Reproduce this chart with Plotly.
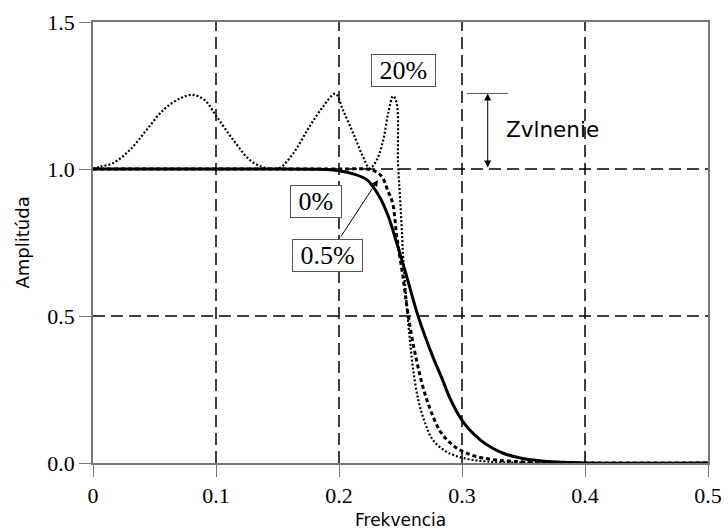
import plotly.graph_objects as go

# ---- data ----
x_0 = [0.0, 0.10, 0.15, 0.18, 0.19, 0.20, 0.21, 0.2228, 0.233, 0.240, 0.247, 0.255,
       0.2645, 0.2764, 0.284, 0.290, 0.298, 0.305, 0.315, 0.325, 0.333, 0.343,
       0.353, 0.365, 0.374, 0.385, 0.40, 0.50]
y_0 = [1.0, 1.0, 1.0, 0.999, 0.998, 0.994, 0.985, 0.963, 0.905, 0.84, 0.748, 0.635,
       0.497, 0.36, 0.285, 0.222, 0.158, 0.118, 0.078, 0.05, 0.034, 0.021,
       0.013, 0.007, 0.004, 0.002, 0.0, 0.0]

x_05 = [0.0, 0.10, 0.20, 0.222, 0.228, 0.2347, 0.240, 0.2436, 0.247, 0.252, 0.256,
        0.263, 0.2715, 0.282, 0.290, 0.298, 0.307, 0.317, 0.328, 0.34, 0.355,
        0.37, 0.385, 0.40, 0.50]
y_05 = [1.0, 1.0, 1.0, 1.0, 0.995, 0.975, 0.923, 0.884, 0.77, 0.633, 0.51,
        0.35, 0.214, 0.11, 0.07, 0.045, 0.028, 0.017, 0.010, 0.006, 0.003,
        0.002, 0.001, 0.0, 0.0]

x_20 = [0.0, 0.0057, 0.0163, 0.030, 0.0436, 0.057, 0.0707, 0.081, 0.0906, 0.1006, 0.114,
        0.1276, 0.137, 0.1435, 0.148, 0.1525, 0.163, 0.176, 0.187, 0.197, 0.2033, 0.2115,
        0.2195, 0.225, 0.2306, 0.236, 0.240, 0.244, 0.2469, 0.248, 0.2496, 0.251,
        0.2523, 0.2556, 0.2577, 0.260, 0.2645, 0.270, 0.2764, 0.2875, 0.301, 0.32,
        0.35, 0.40, 0.50]
y_20 = [1.0, 1.008, 1.02, 1.065, 1.133, 1.20, 1.24, 1.252, 1.235, 1.178, 1.099,
        1.03, 1.008, 1.001, 1.0, 1.005, 1.054, 1.144, 1.212, 1.256, 1.20, 1.122,
        1.042, 1.002, 1.03, 1.099, 1.19, 1.248, 1.224, 1.02, 0.906, 0.80,
        0.69, 0.51, 0.418, 0.327, 0.214, 0.136, 0.078, 0.038, 0.017, 0.005,
        0.001, 0.0, 0.0]

x_ticks = [0, 0.1, 0.2, 0.3, 0.4, 0.5]
x_labels = ["0", "0.1", "0.2", "0.3", "0.4", "0.5"]
y_ticks = [0, 0.5, 1.0, 1.5]
y_labels = ["0.0", "0.5", "1.0", "1.5"]

fig = go.Figure()

# dashed gridlines drawn as line traces
for xv in x_ticks[1:-1]:
    fig.add_trace(go.Scatter(x=[xv, xv], y=[0, 1.5], mode="lines",
                             line=dict(color="black", width=1.5, dash="12px,6px"),
                             hoverinfo="skip", showlegend=False))
for yv in y_ticks[1:-1]:
    fig.add_trace(go.Scatter(x=[0, 0.5], y=[yv, yv], mode="lines",
                             line=dict(color="black", width=1.5, dash="12px,6px"),
                             hoverinfo="skip", showlegend=False))

fig.add_trace(go.Scatter(x=x_20, y=y_20, mode="lines", line_shape="spline",
                         line=dict(color="black", width=2.2, dash="2px,2px"),
                         name="20%", showlegend=False))
fig.add_trace(go.Scatter(x=x_05, y=y_05, mode="lines", line_shape="spline",
                         line=dict(color="black", width=3, dash="4px,3px"),
                         name="0.5%", showlegend=False))
fig.add_trace(go.Scatter(x=x_0, y=y_0, mode="lines", line_shape="spline",
                         line=dict(color="black", width=3),
                         name="0%", showlegend=False))

serif = "Liberation Serif"
sans = "DejaVu Sans"

fig.update_xaxes(range=[0, 0.5], tickvals=x_ticks, ticktext=x_labels,
                 showgrid=False, zeroline=False, showline=True, linecolor="#777",
                 linewidth=1.5, mirror=True, ticks="outside", ticklen=12,
                 tickcolor="#777", tickwidth=1.2, automargin=False,
                 tickfont=dict(family=serif, size=22, color="black"))
fig.update_yaxes(range=[0, 1.5], tickvals=y_ticks, ticktext=y_labels,
                 showgrid=False, zeroline=False, showline=True, linecolor="#777",
                 linewidth=1.5, mirror=True, ticks="outside", ticklen=12,
                 tickcolor="#777", tickwidth=1.2, automargin=False,
                 tickfont=dict(family=serif, size=22, color="black"))

# axis titles
fig.add_annotation(x=0.5, y=0, xref="paper", yref="paper", yanchor="middle",
                   yshift=-57, text="Frekvencia", showarrow=False,
                   font=dict(family=sans, size=17, color="black"))
fig.add_annotation(x=0, y=0.5, xref="paper", yref="paper", xanchor="center",
                   xshift=-71, textangle=-90, text="Amplitúda", showarrow=False,
                   font=dict(family=sans, size=18, color="black"))

box = dict(bordercolor="#555", borderwidth=1, bgcolor="white", borderpad=1,
           font=dict(family=serif, size=26, color="black"), showarrow=False,
           xref="x", yref="y")
nb = "\u00a0"
fig.add_annotation(x=0.2524, y=1.336, text=nb + "20%" + nb, **box)
fig.add_annotation(x=0.1809, y=0.889, text=nb + "0%" + nb, **box)

# arrow from 0.5% box to the curves
fig.add_annotation(x=0.2317, y=0.963, ax=0.2008, ay=0.765, axref="x", ayref="y",
                   xref="x", yref="y", text="", showarrow=True, arrowhead=2,
                   arrowsize=1.3, arrowwidth=1, arrowcolor="black")
fig.add_annotation(x=0.1907, y=0.7075, text=nb + "0.5%" + nb, **box)

# ripple marker
fig.add_shape(type="line", x0=0.304, x1=0.3374, y0=1.257, y1=1.257,
              xref="x", yref="y", line=dict(color="#555", width=1))
fig.add_annotation(x=0.3209, y=1.257, ax=0.3209, ay=1.0, axref="x", ayref="y",
                   xref="x", yref="y", text="", showarrow=True, arrowhead=2,
                   arrowside="end+start", arrowsize=1.4, arrowwidth=1,
                   arrowcolor="black")
fig.add_annotation(x=0.3735, y=1.133, text="Zvlnenie", showarrow=False,
                   xref="x", yref="y",
                   font=dict(family=sans, size=21.5, color="black"))

fig.update_layout(width=728, height=532, margin=dict(l=93, r=20, t=22, b=69),
                  paper_bgcolor="white", plot_bgcolor="white")

fig.write_html("out.html")
